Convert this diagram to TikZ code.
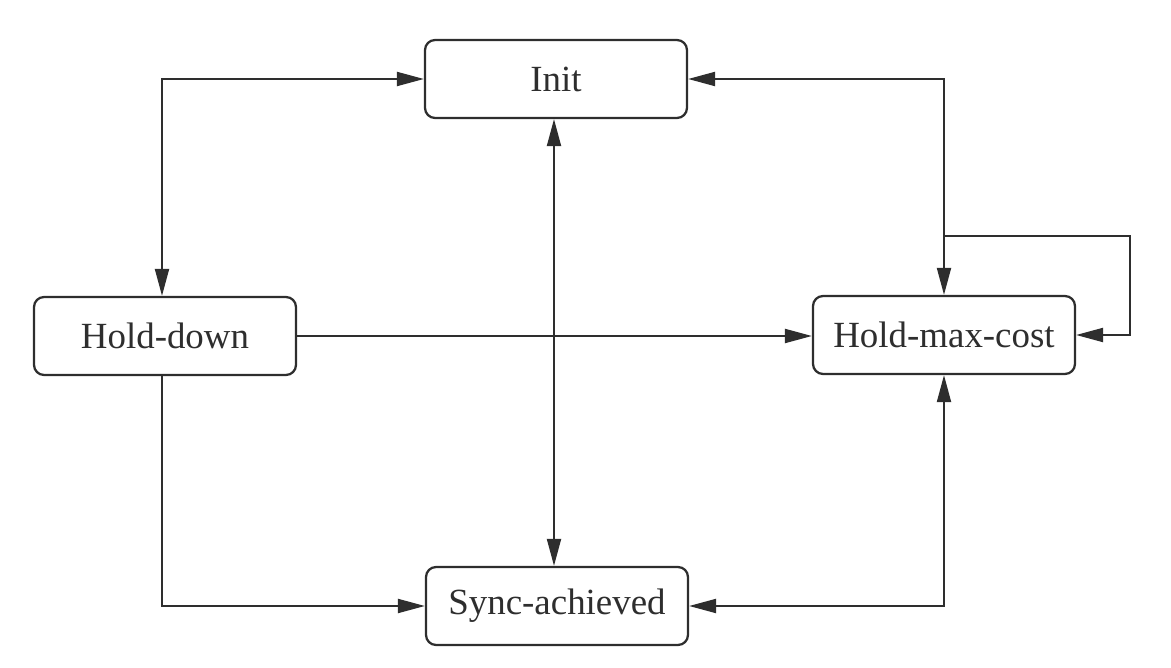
\documentclass[tikz,border=0pt]{standalone}
\usepackage{fontspec}
\setmainfont{Liberation Serif}
\usetikzlibrary{arrows.meta}
\definecolor{ink}{HTML}{2E2E2E}
\begin{document}
\begin{tikzpicture}[x=0.02cm,y=-0.02cm,
  state/.style={draw=ink, line width=0.045cm, rounded corners=0.2cm,
    minimum width=5.24cm, minimum height=1.56cm, inner sep=0pt,
    font=\fontsize{21}{25}\selectfont, text=ink},
  conn/.style={draw=ink, line width=0.04cm},
  tip/.tip={Triangle[length=0.54cm,width=0.28cm]},
  >={Triangle[length=0.54cm,width=0.28cm]}]
\useasboundingbox (0,0) rectangle (1171,668);
\node[state] (init) at (556,79) {Init};
\node[state] (hd) at (165,336) {Hold-down};
\node[state] (hmc) at (944,335) {Hold-max-cost};
\node[state] (sync) at (557,606) {Sync-achieved};
\coordinate (lp) at (944,236);
\draw[conn,<->,ink] (hd.north -| 162,0) |- (init.west);
\draw[conn,<->,ink] (init.east) -| (hmc.north);
\draw[conn,->,ink] (lp) -- (1130,236) |- (hmc.east);
\draw[conn,->,ink] (hd.east) -- (hd.east -| hmc.west);
\draw[conn,<->,ink] (init.south -| 554,0) -- (sync.north -| 554,0);
\draw[conn,->,ink] (hd.south -| 162,0) |- (sync.west);
\draw[conn,<->,ink] (sync.east) -| (hmc.south);
\end{tikzpicture}
\end{document}
